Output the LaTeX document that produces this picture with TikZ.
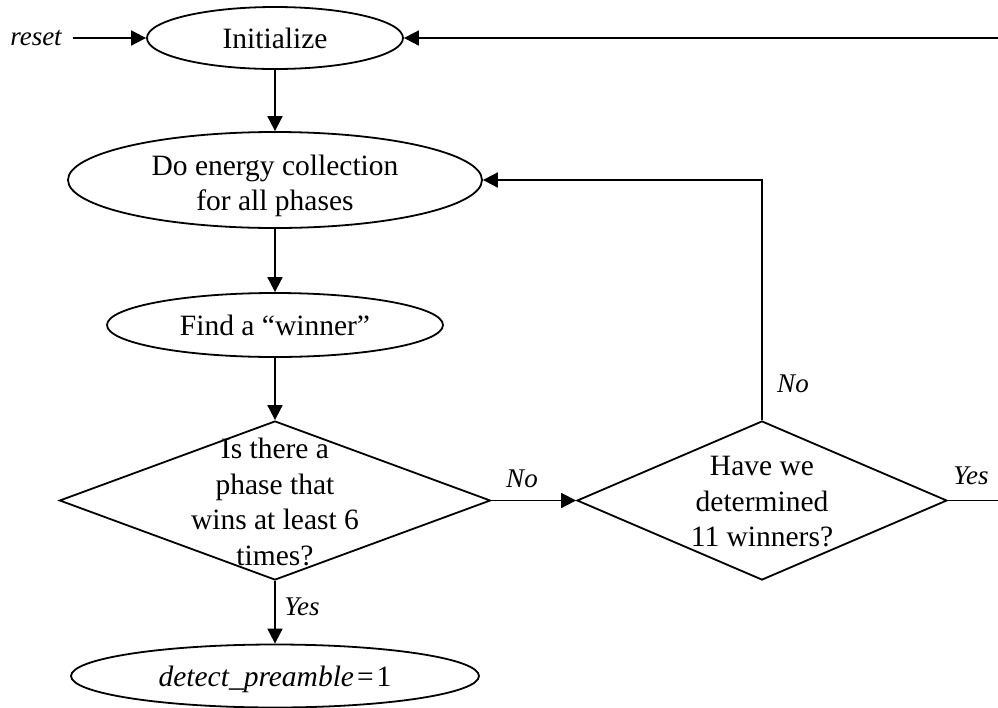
\documentclass[tikz,border=0pt]{standalone}
\usepackage{fontspec}
\setmainfont{Liberation Serif}
\usetikzlibrary{shapes.geometric, arrows.meta}

\begin{document}
\begin{tikzpicture}[x=0.5pt, y=-0.5pt,
  every node/.style={font=\fontsize{14.75}{17.75}\selectfont},
  state/.style={ellipse, draw, line width=0.9pt, inner sep=0pt, align=center},
  decision/.style={diamond, draw, line width=0.9pt, inner sep=0pt},
  txt/.style={align=center, inner sep=0pt},
  lbl/.style={font=\fontsize{13.5}{16}\selectfont\itshape, inner sep=0pt},
  flow/.style={line width=0.9pt, -{Triangle[length=7.5pt,width=7.5pt]}},
  link/.style={line width=0.9pt}
]
\useasboundingbox (0,0) rectangle (998,708);

% process steps
\node[state, minimum width=128pt, minimum height=31pt] (init) at (275,38) {Initialize};
\node[state, minimum width=207pt, minimum height=48pt] (energy) at (275,180) {};
\node[txt] (energytext) at (275,186) {Do energy collection\\for all phases};
\node[state, minimum width=168pt, minimum height=32pt] (find) at (275,325) {Find a “winner”};
\node[state, minimum width=204pt, minimum height=31.5pt] (detect) at (275,676) {};
\node[txt] (detecttext) at (275,679)
  {\textit{detect\_preamble}\kern1.5pt=\kern1.5pt1};

% decisions
\node[decision, minimum width=215.5pt, minimum height=79.5pt] (d1) at (275,500.5) {};
\node[txt] (d1text) at (275,502) {Is there a\\phase that\\wins at least 6\\times?};
\node[decision, minimum width=185pt, minimum height=79.5pt] (d2) at (762,500.5) {};
\node[txt] (d2text) at (762,502) {Have we\\determined\\11 winners?};

% external input
\node[lbl, inner xsep=5.5pt] (reset) at (36,38) {reset};
\coordinate (loop) at (1004,500.5);

% connectors
\draw[flow] (reset) -- (init);
\draw[flow] (init) -- (energy);
\draw[flow] (energy) -- (find);
\draw[flow] (find) -- (d1.north);
\draw[flow] (d1.south) -- (detect);
\draw[flow] (d1.east) -- (d2.west);
\draw[flow] (d2.north) |- (energy.east);
\draw[flow] (d2.east) -- (loop) |- (init.east);

% branch labels
\node[lbl] (no1) at (522,479) {No};
\node[lbl] (no2) at (793,384) {No};
\node[lbl] (yes1) at (302,607) {Yes};
\node[lbl] (yes2) at (971,476) {Yes};
\end{tikzpicture}
\end{document}
